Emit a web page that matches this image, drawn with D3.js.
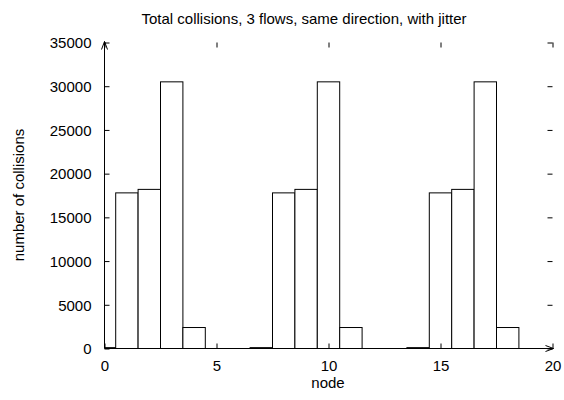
<!DOCTYPE html>
<html>
<head>
<meta charset="utf-8">
<script src="https://cdn.jsdelivr.net/npm/d3@7"></script>
<style>
  body { margin: 0; background: #fff; }
  svg { display: block; }
  text { font-family: "Liberation Sans", Arial, sans-serif; fill: #000; }
</style>
</head>
<body>
<svg id="chart" width="564" height="400"></svg>
<script>
const nodes = [0,1,2,3,4,5,6,7,8,9,10,11,12,13,14,15,16,17,18,19];
const collisions = [100,17800,18200,30500,2400,0,0,100,17800,18200,30500,2400,0,0,100,17800,18200,30500,2400,0];
const xTicks = [0,5,10,15,20];
const yTicks = [0,5000,10000,15000,20000,25000,30000,35000];
const title = "Total collisions, 3 flows, same direction, with jitter";
const xLabel = "node";
const yLabel = "number of collisions";

const W = 564, H = 400;
const m = {left: 104, right: 12, top: 42, bottom: 52};
const svg = d3.select("#chart");

const x = d3.scaleLinear().domain([0, 20]).range([m.left, W - m.right]);
const y = d3.scaleLinear().domain([0, 35000]).range([H - m.bottom, m.top]);

svg.append("defs").append("clipPath").attr("id", "clip")
  .append("rect").attr("x", x(0)).attr("y", y(35000))
  .attr("width", x(20) - x(0)).attr("height", y(0) - y(35000));

// bars
svg.append("g").attr("clip-path", "url(#clip)")
  .selectAll("rect").data(nodes).join("rect")
  .attr("x", (d) => x(d - 0.5) + 0.5)
  .attr("y", (d, i) => y(collisions[i]) + 0.5)
  .attr("width", (d) => x(d + 0.5) - x(d - 0.5))
  .attr("height", (d, i) => y(0) - y(collisions[i]))
  .attr("fill", "#fff").attr("stroke", "#000").attr("stroke-width", 1);

const fs = "15px";
// axes with inward ticks
const gx = svg.append("g").attr("transform", `translate(0.5,${y(0) + 0.5})`)
  .call(d3.axisBottom(x).tickValues(xTicks).tickSize(-5).tickPadding(12).tickFormat(d3.format("d")));
const gxt = svg.append("g").attr("transform", `translate(0.5,${y(35000) + 0.5})`)
  .call(d3.axisTop(x).tickValues(xTicks).tickSize(-5).tickFormat(""));
const gy = svg.append("g").attr("transform", `translate(${x(0) + 0.5},0.5)`)
  .call(d3.axisLeft(y).tickValues(yTicks).tickSize(-5).tickPadding(13).tickFormat(d3.format("d")));
const gyr = svg.append("g").attr("transform", `translate(${x(20) + 0.5},0.5)`)
  .call(d3.axisRight(y).tickValues(yTicks).tickSize(-5).tickFormat(""));

[gx, gxt, gy, gyr].forEach(g => {
  g.select(".domain").remove();
  g.selectAll("line").attr("stroke", "#000");
  g.selectAll("text").attr("font-size", fs).attr("font-family", "Liberation Sans, Arial, sans-serif").attr("fill", "#000");
});
gy.selectAll("text").attr("dy", "0.35em");

// axis lines with arrows
const ax = svg.append("g").attr("stroke", "#000").attr("fill", "none").attr("stroke-width", 1);
const x0 = x(0) + 0.5, y0 = y(0) + 0.5, xe = x(20) + 1.5, ye = y(35000) - 0.5;
ax.append("line").attr("x1", x0).attr("y1", y0).attr("x2", xe).attr("y2", y0);
ax.append("line").attr("x1", x0).attr("y1", y0).attr("x2", x0).attr("y2", ye);
ax.append("path").attr("d", `M${xe - 8},${y0 - 3}L${xe},${y0}L${xe - 8},${y0 + 3}`);
ax.append("path").attr("d", `M${x0 - 3},${ye + 8}L${x0},${ye}L${x0 + 3},${ye + 8}`);

// titles
svg.append("text").attr("x", 304).attr("y", 24)
  .attr("text-anchor", "middle").attr("font-size", fs).text(title);
svg.append("text").attr("x", (x(0) + x(20)) / 2).attr("y", 388)
  .attr("text-anchor", "middle").attr("font-size", fs).text(xLabel);
svg.append("text").attr("transform", `translate(24,${(y(0) + y(35000)) / 2}) rotate(-90)`)
  .attr("text-anchor", "middle").attr("font-size", fs).text(yLabel);
</script>
</body>
</html>
